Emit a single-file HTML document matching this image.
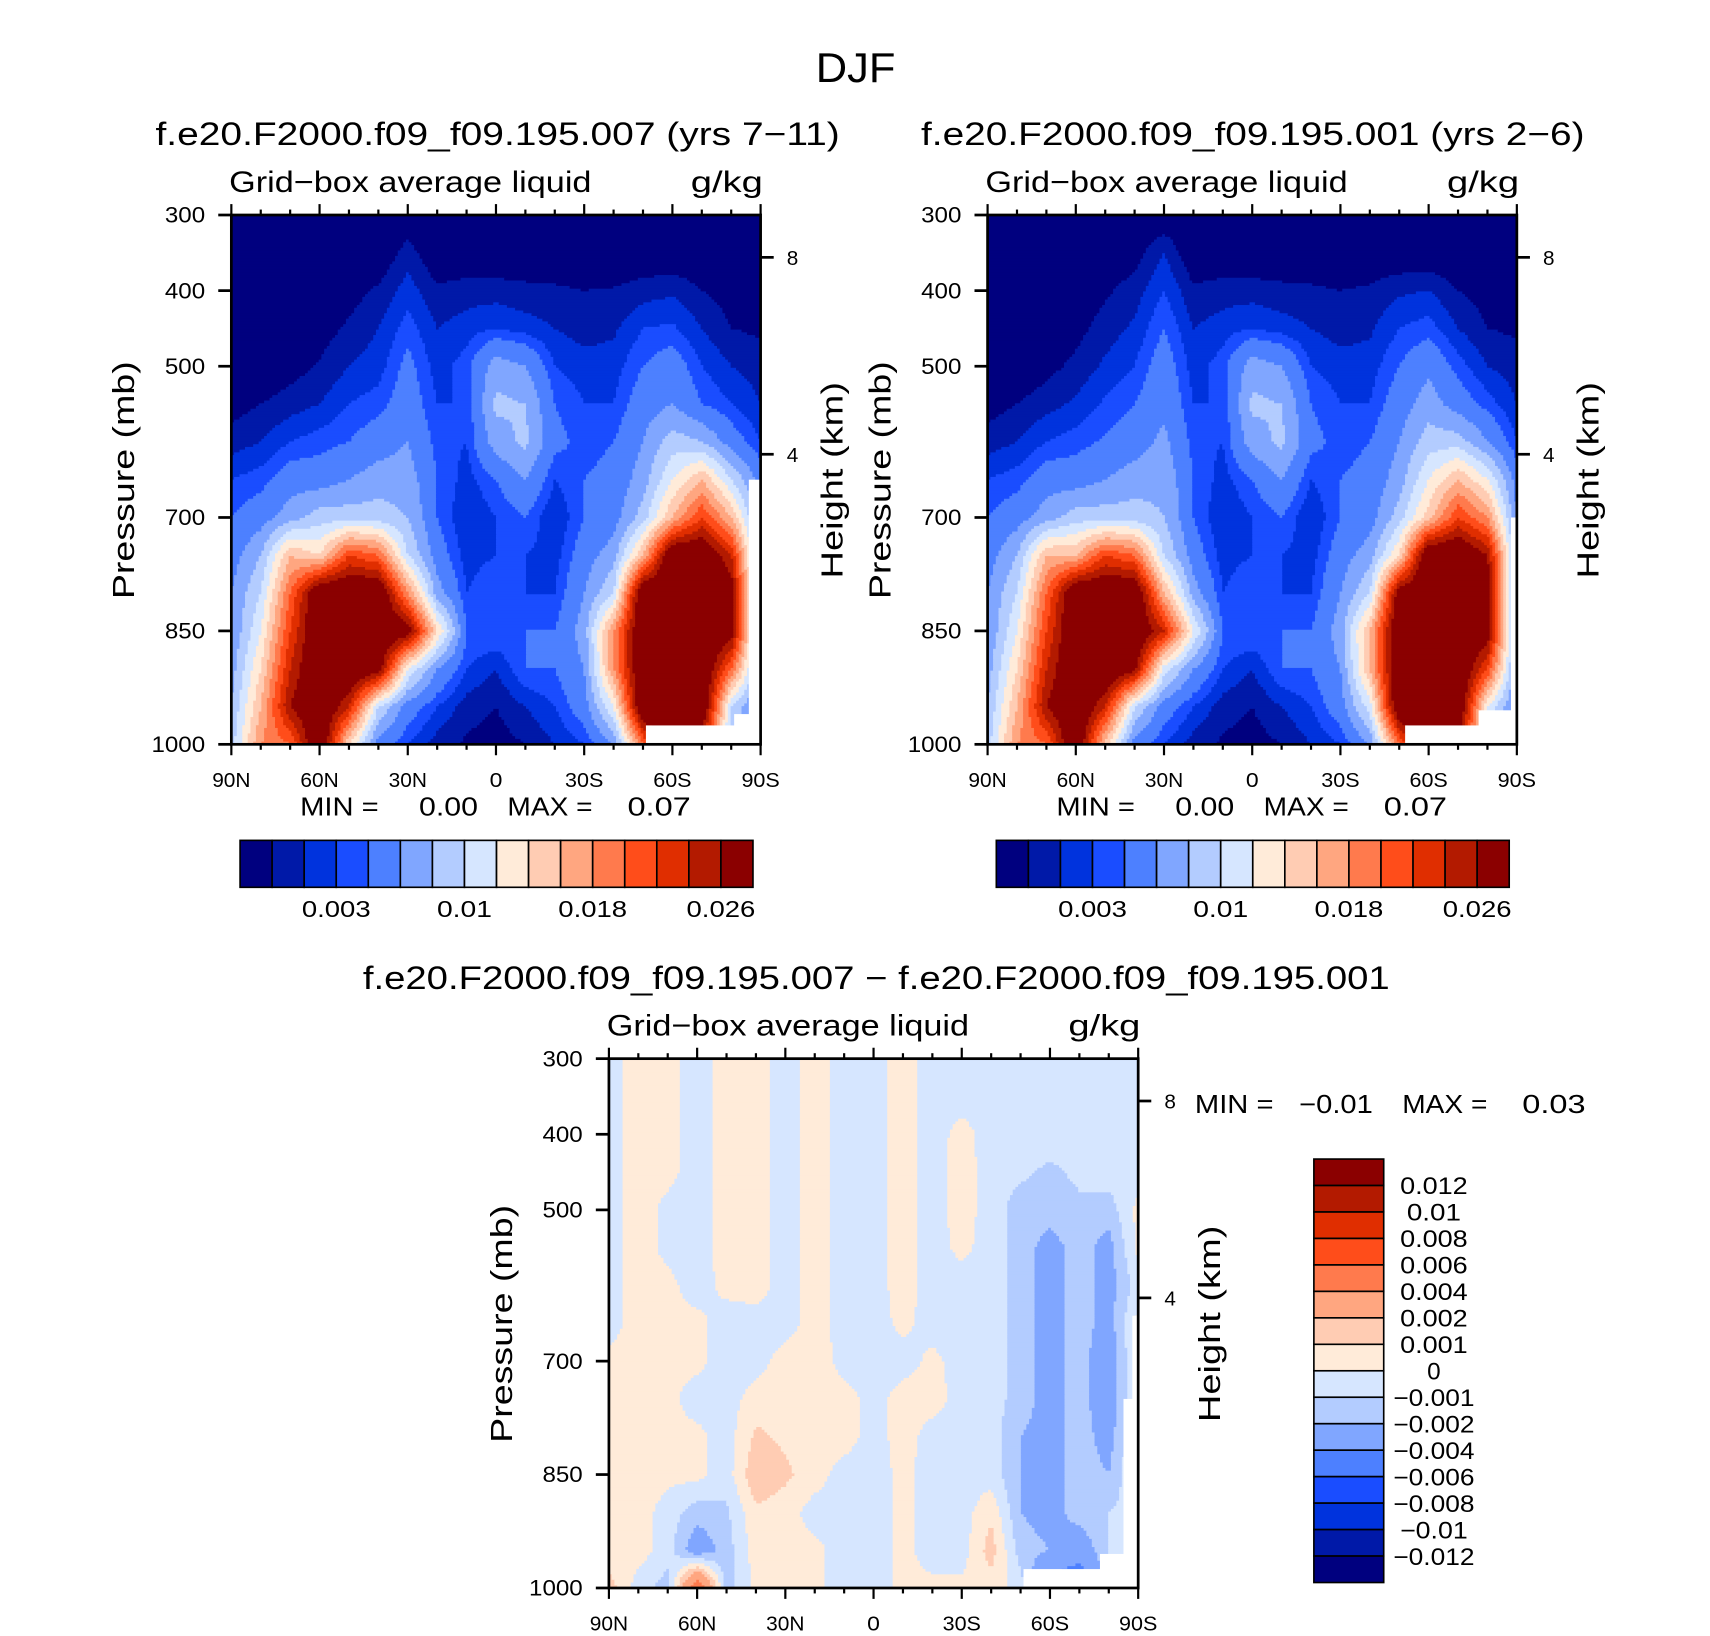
<!DOCTYPE html>
<html><head><meta charset="utf-8"><style>
html,body{margin:0;padding:0;background:#fff;}
svg{display:block;font-family:"Liberation Sans",sans-serif;}
</style></head><body>
<svg id="fig" width="1710" height="1636" viewBox="0 0 1567 1499" preserveAspectRatio="none" xmlns="http://www.w3.org/2000/svg">
<rect x="0" y="0" width="1567" height="1499" fill="#fff"/>
<text x="784" y="75" font-size="38" text-anchor="middle" textLength="73" lengthAdjust="spacingAndGlyphs">DJF</text>
<g id="layer"></g>
</svg>
<script>
// ---- data ----
const lats = [90,80,70,60,50,40,30,20,10,0,-10,-20,-30,-40,-50,-60,-70,-80,-90];
const pressures = [300,350,400,450,500,550,600,650,700,750,800,850,900,950,1000];
const absLevels = [1,2,3,4,6,8,10,12,14,16,18,20,22,24,26];
const absLabels = ["0.003","0.01","0.018","0.026"];
const absLabelIdx = [2,6,10,14];
const diffLevels = [-12,-10,-8,-6,-4,-2,-1,0,1,2,4,6,8,10,12];
const diffLabels = ["0.012","0.01","0.008","0.006","0.004","0.002","0.001","0","\u22120.001","\u22120.002","\u22120.004","\u22120.006","\u22120.008","\u22120.01","\u22120.012"];
const palette = ["#00007F","#0019A8","#0033DD","#1A4DFF","#4D80FF","#80A6FF","#B3CCFF","#D6E6FF","#FFEBD9","#FFCCB3","#FFA680","#FF7A4D","#FF4D1A","#E02E00","#B31A00","#8B0000"];
const pTicks = [300,400,500,700,850,1000];
const latTicks = [90,60,30,0,-30,-60,-90];
const latTickLabels = ["90N","60N","30N","0","30S","60S","90S"];
const kmTicks = [8,4];

const field1 = [
[0,0,0,0,0,0,0,0,0,0,0,0,0,0,0,0,0,0,0],
[0,0,0,0,0,0,1.5,0,0,0,0,0,0,0,0,0,0,0,0],
[0,0,0,0,0.5,1.2,2.5,1.2,1.5,1.5,1.3,1.2,1,1.1,1.5,1.8,1,0.5,0.5],
[0,0,0,0.5,1.2,2,3.5,2,2.5,3,2.5,2,1.5,1.8,3,3.2,2,1,0.8],
[0,0,0.5,1.1,2,2.5,4.5,2.5,3.5,7,6,3,2.5,2.5,4,5,3,2,1.5],
[0.5,1,1.5,2,3,3.5,5,3,3,8.5,8,4,3,3,5,6,4,3,2],
[1.5,2,3,3.5,4,5,6,3.5,3,7,8.5,4.5,3.5,4,6,9,8,5,3],
[3,3.5,5,5,6,7,7,4,2.5,4,6,3,4,4.5,7,12,16,10,5],
[4,5,7,9,9,9,8,4,2,3,4,2,4,5,9,16,22,16,6],
[5,8,16,14,22,20,10,5,2.5,3,3,2.5,5,7,16,30,30,24,6],
[6,10,20,30,30,30,18,7,3,4,3,3,6,10,30,30,30,28,6],
[6,12,22,30,30,30,28,14,4,4,4,4,7,18,30,30,30,28,6],
[7,14,24,30,30,28,12,6,3,2,4,4,6,18,30,30,30,20,6],
[8,16,26,30,24,10,5,3,1.5,1,2,3,5,12,30,30,30,10,5],
[9,18,20,30,14,5,3,1.5,0.8,0.5,1,2,3,6,20,30,24,8,5]];

const field2 = [
[0,0,0,0,0,0,0,0,0,0,0,0,0,0,0,0,0,0,0],
[0,0,0,0,0,0.5,2,0,0,0,0,0,0,0,0,0,0,0,0],
[0,0,0,0,0.8,1.5,3,1.2,1.5,1.5,1.3,1.2,1,1.2,1.8,2,1,0.5,0.5],
[0,0,0,0.6,1.5,2.2,4,2,2.5,3,2.5,2,1.5,1.8,3,3.5,2,1,0.8],
[0,0,0.6,1.3,2.2,3,5,2.5,3.5,7,6,3,2.5,2.5,4,5.5,3.5,2,1.5],
[0.5,1,1.6,2.2,3.2,4,5.5,3,3,8.5,8,4,3,3,5,7,5,3.5,2],
[1.5,2,3,3.5,4.2,5,6.5,3.5,3,7,8.5,4.5,3.5,4,6,9,9,6,3],
[3,3.5,5,5,6,7,7.5,4,2.5,4,6,3,4,4.5,7,12,16,12,5],
[4,5,7,9,9,9,8,4,2,3,4,2,4,5,9,15,22,18,6],
[5,8,16,16,22,20,10,5,2.5,3,3,2.5,5,7,14,30,30,26,7],
[6,10,20,30,30,30,16,7,3,4,3,3,6,10,28,30,30,28,7],
[6,12,22,30,30,30,24,12,4,4,4,4,7,16,30,30,30,28,7],
[7,14,24,30,30,27,11,6,3,2,4,4,6,16,30,30,30,22,6],
[8,16,26,30,24,10,5,3,1.5,1,2,3,5,11,30,30,30,12,5],
[9,18,20,30,15,5,3,1.5,0.8,0.5,1,2,3,6,20,30,26,9,5]];

const fieldDiff = [
[-0.5,0.5,0.3,-0.5,0.5,0.4,-0.5,0.5,-0.5,-0.5,0.5,-0.5,-0.5,-0.3,-0.5,-0.5,-0.5,-0.5,-0.5],
[-0.5,0.5,0.3,-0.5,0.5,0.4,-0.5,0.5,-0.5,-0.5,0.5,-0.5,-0.5,-0.5,-0.5,-0.5,-0.5,-0.5,-0.5],
[-0.5,0.5,0.3,-0.5,0.5,0.5,-0.5,0.5,-0.5,-0.5,0.5,-0.5,0.4,-0.5,-0.5,-0.5,-0.5,-0.5,-0.5],
[-0.5,0.5,0.3,-0.5,0.5,0.5,-0.5,0.5,-0.5,-0.5,0.5,-0.5,0.5,-0.5,-0.8,-1.2,-0.8,-0.5,-0.5],
[-0.5,0.5,-0.3,-0.5,0.5,0.5,-0.5,0.5,-0.5,-0.5,0.5,-0.5,0.5,-0.5,-1.5,-1.5,-1.2,-1.5,0.3],
[-0.5,0.5,-0.3,-0.5,0.5,0.5,-0.5,0.5,-0.5,-0.5,0.5,-0.5,0.3,-0.5,-1.5,-2.5,-1.5,-2.5,0.3],
[-0.5,0.5,0.3,-0.5,0.3,0.5,-0.5,0.5,-0.5,-0.5,0.5,-0.5,-0.5,-0.5,-1.5,-2.5,-1.5,-2.5,-0.5],
[-0.5,0.5,0.3,0.3,-0.5,-0.5,-0.5,0.5,-0.5,-0.5,0.3,-0.5,-0.5,-0.5,-1.5,-2.5,-1.5,-2.5,0.3],
[0.3,0.5,0.3,0.3,-0.5,-0.5,0.5,0.8,-0.5,-0.5,-0.5,0.3,-0.5,-0.5,-1.5,-2.5,-1.5,-3,0.3],
[0.3,0.8,0.3,-0.5,-0.5,0.5,0.8,0.8,0.5,-0.5,0.5,0.5,-0.5,-0.5,-1.5,-2.5,-1.5,-3,0.3],
[0.3,0.8,0.3,0.3,-0.5,1.2,0.8,0.5,0.5,-0.5,0.5,-0.5,-0.5,-0.5,-2,-2.5,-1.5,-2.5,0.3],
[0.3,0.8,0.3,0.3,-0.5,1.8,1.2,0.5,-0.5,-0.5,0.3,-0.5,-0.5,-0.5,-2,-2.5,-1.5,-2,0.3],
[0.3,0.5,-0.5,-1.5,-1.2,0.8,0.5,-0.5,-0.5,-0.5,0.3,-0.5,-0.5,0.8,-2,-2.5,-1.5,-1,-0.5],
[0.3,0.5,-0.5,-3,-1.5,0.5,0.5,0.3,-0.5,-0.5,0.3,-0.5,-0.5,1.5,-1.5,-2,-3,-1,-0.5],
[1.5,-0.5,-1.5,6,-1.5,0.3,0.3,0.3,-0.5,-0.5,0.3,0.3,0.3,0.5,-0.5,-5,-6,-1,-0.5]];

// missing-data regions (lat from, lat to, top pressure)
const miss1LatA = [-51,-81,-86];
const miss1LatB = [-81,-90,-90];
const miss1PTop = [975,960,650];
const miss2LatA = [-52,-77,-88];
const miss2LatB = [-77,-90,-90];
const miss2PTop = [975,955,700];
const missDLatA = [-51,-77,-85,-88];
const missDLatB = [-77,-90,-90,-90];
const missDPTop = [975,955,750,640];

// ---- drawing ----
const NS = "http://www.w3.org/2000/svg";
const layer = document.getElementById('layer');
const PW = 485, PH = 485;
function mk(tag, attrs, parent){
  const e = document.createElementNS(NS, tag);
  for (const k in attrs) e.setAttribute(k, attrs[k]);
  (parent||layer).appendChild(e); return e;
}
function levelIndex(v, lv){ let i=0; while(i<lv.length && v>=lv[i]) i++; return i; }
function sample(grid, lat, p){
  let fi = (90-lat)/10, fj = (p-300)/50;
  let i0 = Math.min(Math.floor(fi), lats.length-2), j0 = Math.min(Math.floor(fj), pressures.length-2);
  let tx = fi-i0, ty = fj-j0;
  const a=grid[j0][i0], b=grid[j0][i0+1], c=grid[j0+1][i0], d=grid[j0+1][i0+1];
  return (a*(1-tx)+b*tx)*(1-ty)+(c*(1-tx)+d*tx)*ty;
}
function kmToP(z){ return 1013.25*Math.pow(1-2.25577e-5*z*1000, 5.25588); }
function tl(s, per){ return {textLength:(s.length*per).toFixed(1), lengthAdjust:'spacingAndGlyphs'}; }

function drawPanel(opt){
  const px=opt.x, py=opt.y;
  const X = lat => px + (90-lat)/180*PW;
  const Y = p => py + (p-300)/700*PH;
  const g = mk('g', {});
  
  
  const step = 2.5;
  const nx = Math.round(PW/step), ny = Math.round(PH/step);
  for (let r=0; r<ny; r++){
    const p = 300 + (r+0.5)/ny*700;
    let start=0, cur=-1;
    for (let c=0; c<=nx; c++){
      let idx = -2;
      if (c<nx){ const lat = 90 - (c+0.5)/nx*180; idx = levelIndex(sample(opt.grid, lat, p), opt.levels); }
      if (c===0){ cur=idx; start=0; continue; }
      if (idx!==cur){
        const rc = mk('rect', {x:(px+start*step).toFixed(2), y:(py+r*step).toFixed(2), width:((c-start)*step+0.6).toFixed(2), height:(step+0.6).toFixed(2), fill:palette[cur]}, g);
        
        
        cur=idx; start=c;
      }
    }
  }
  for (let k=0; k<opt.mLatA.length; k++){
    const m = mk('rect', {x:X(opt.mLatA[k]), y:Y(opt.mPTop[k]), width:X(opt.mLatB[k])-X(opt.mLatA[k])+1, height:Y(1000)-Y(opt.mPTop[k]), fill:'#fff'}, g);
    
    
  }
  const fr = mk('rect', {x:px, y:py, width:PW, height:PH, fill:'none', stroke:'#000', 'stroke-width':2.5}, g);
  
  
  for (let lat=90; lat>=-90; lat-=10){
    const major = lat%30===0, len = major?10:5;
    mk('line', {x1:X(lat), y1:Y(1000), x2:X(lat), y2:Y(1000)+len, stroke:'#000','stroke-width':2}, g);
    mk('line', {x1:X(lat), y1:Y(300), x2:X(lat), y2:Y(300)-len, stroke:'#000','stroke-width':2}, g);
  }
  latTicks.forEach((lat,i)=>{
    const s = latTickLabels[i];
    const t = mk('text', Object.assign({x:X(lat), y:Y(1000)+39, 'font-size':19, 'text-anchor':'middle'}, tl(s,11.7)), g);
    t.textContent = s;
    
    
  });
  pTicks.forEach(p=>{
    mk('line', {x1:px-12, y1:Y(p), x2:px, y2:Y(p), stroke:'#000','stroke-width':2.5}, g);
    const s = String(p);
    const t = mk('text', Object.assign({x:px-24, y:Y(p)+7, 'font-size':20, 'text-anchor':'end'}, tl(s,12.3)), g);
    t.textContent = s;
    
    
  });
  kmTicks.forEach(z=>{
    const yy = Y(kmToP(z));
    mk('line', {x1:px+PW, y1:yy, x2:px+PW+12, y2:yy, stroke:'#000','stroke-width':2.5}, g);
    const t = mk('text', {x:px+PW+24, y:yy+7, 'font-size':19}, g);
    t.textContent = z;
    
    
  });
  let t = mk('text', Object.assign({x:opt.titleX, y:py-64, 'font-size':30, 'text-anchor':'middle'}, {textLength:opt.titleW, lengthAdjust:'spacingAndGlyphs'}), g);
  t.textContent = opt.title;
  
  
  t = mk('text', {x:px-2, y:py-21, 'font-size':27, textLength:332, lengthAdjust:'spacingAndGlyphs'}, g);
  t.textContent = "Grid\u2212box average liquid";
  
  
  t = mk('text', {x:px+PW-64, y:py-21, 'font-size':27, textLength:66, lengthAdjust:'spacingAndGlyphs'}, g);
  t.textContent = "g/kg";
  
  
  t = mk('text', {x:0, y:0, 'font-size':28, 'text-anchor':'middle', textLength:218, lengthAdjust:'spacingAndGlyphs', transform:`translate(${px-89},${py+243}) rotate(-90)`}, g);
  t.textContent = "Pressure (mb)";
  
  
  t = mk('text', {x:0, y:0, 'font-size':28, 'text-anchor':'middle', textLength:180, lengthAdjust:'spacingAndGlyphs', transform:`translate(${px+PW+75},${py+243}) rotate(-90)`}, g);
  t.textContent = "Height (km)";
  
  
}

function minmax(x, y, minTxt, maxTxt, name){
  const g = mk('g', {'font-size':24});
  
  
  mk('text', {x:x, y:y, textLength:72, lengthAdjust:'spacingAndGlyphs'}, g).textContent = "MIN =";
  mk('text', Object.assign({x:x+163, y:y, 'text-anchor':'end'}, tl(minTxt,13.5)), g).textContent = minTxt;
  mk('text', {x:x+190, y:y, textLength:78, lengthAdjust:'spacingAndGlyphs'}, g).textContent = "MAX =";
  mk('text', Object.assign({x:x+358, y:y, 'text-anchor':'end'}, tl(maxTxt,14.5)), g).textContent = maxTxt;
}

function hColorbar(x0, y0){
  const g = mk('g', {});
  
  
  const w = 470/16;
  palette.forEach((c,i)=>{
    const r = mk('rect', {x:x0+i*w, y:y0, width:w, height:43, fill:c, stroke:'#000','stroke-width':1.5}, g);
    
    
  });
  absLabelIdx.forEach((k,i)=>{
    const s = absLabels[i];
    const t = mk('text', Object.assign({x:x0+(k+1)*w, y:y0+70, 'font-size':21, 'text-anchor':'middle'}, tl(s,12.6)), g);
    t.textContent = s;
    
    
  });
}

drawPanel({name:'panel-007', x:212, y:197, grid:field1, levels:absLevels, title:"f.e20.F2000.f09_f09.195.007 (yrs 7\u221211)", titleX:456, titleW:627, mLatA:miss1LatA, mLatB:miss1LatB, mPTop:miss1PTop});
drawPanel({name:'panel-001', x:905, y:197, grid:field2, levels:absLevels, title:"f.e20.F2000.f09_f09.195.001 (yrs 2\u22126)", titleX:1148, titleW:608, mLatA:miss2LatA, mLatB:miss2LatB, mPTop:miss2PTop});
drawPanel({name:'panel-difference', x:558, y:970, grid:fieldDiff, levels:diffLevels, title:"f.e20.F2000.f09_f09.195.007 \u2212 f.e20.F2000.f09_f09.195.001", titleX:803, titleW:941, mLatA:missDLatA, mLatB:missDLatB, mPTop:missDPTop});
minmax(275, 747, "0.00", "0.07", 'minmax-left');
minmax(968, 747, "0.00", "0.07", 'minmax-right');
minmax(1095, 1020, "\u22120.01", "0.03", 'minmax-diff');
hColorbar(220, 770);
hColorbar(913, 770);

(function(){
  const g = mk('g', {});
  
  
  const h = 388/16, x0=1204, y0=1062;
  for (let i=0;i<16;i++){
    const r = mk('rect', {x:x0, y:y0+i*h, width:64, height:h, fill:palette[15-i], stroke:'#000','stroke-width':1.5}, g);
    
    
  }
  diffLabels.forEach((s,k)=>{
    const t = mk('text', Object.assign({x:1314, y:y0+(k+1)*h+8, 'font-size':22, 'text-anchor':'middle'}, tl(s,12.4)), g);
    t.textContent = s;
    
    
  });
})();
</script>
</body></html>
